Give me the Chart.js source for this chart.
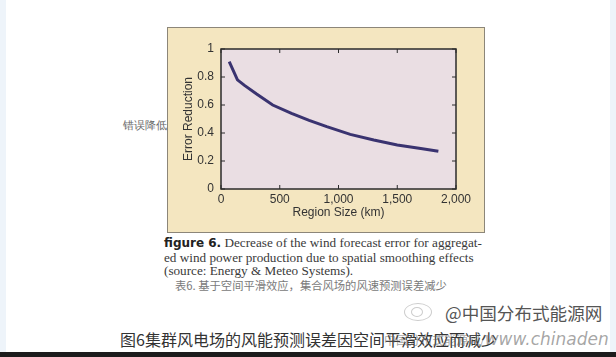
<!DOCTYPE html>
<html>
<head>
<meta charset="utf-8">
<script src="https://cdn.jsdelivr.net/npm/chart.js@4.4.0/dist/chart.umd.min.js"></script>
<style>
  body { margin: 0; width: 616px; height: 357px; background: #fff; position: relative; overflow: hidden; }
  .edge { position: absolute; top: 0; bottom: 0; width: 6px; background: #eef4fa; }
  .bar { position: absolute; left: 0; right: 0; top: 352px; height: 5px; background: #1c1c1c; }
  #box { position: absolute; left: 167px; top: 27px; width: 316px; height: 204px; border: 1px solid #8c8679; background: #f4e6c0; }
  #wrap { position: absolute; left: 0; top: 0; width: 316px; height: 204px; }
  .side { position: absolute; left: 123px; top: 118px; font: 11px "Liberation Serif", serif; color: #666; }
  .cap { position: absolute; left: 164px; top: 236px; width: 340px; font: 13.2px/13.5px "Liberation Serif", serif; color: #3a3a3a; }
  .cap b { font-family: "DejaVu Sans", sans-serif; font-size: 12px; color: #222; }
  .capzh { position: absolute; left: 175px; top: 277px; font: 11.3px "Noto Sans CJK SC", serif; color: #7a7a7a; }
  .logo { position: absolute; left: 404px; top: 303px; width: 26px; height: 16px; border: 1px solid #ccc; border-radius: 50%; }
  .logo2 { position: absolute; left: 411px; top: 307px; width: 10px; height: 8px; border: 1px solid #ccc; border-radius: 50%; }
  .weibo { position: absolute; left: 445px; top: 300px; font: 17.6px "Noto Sans CJK SC", sans-serif; color: #555; }
  .title { position: absolute; left: 120px; top: 327px; font: 16px "Noto Sans CJK SC", sans-serif; color: #333; }
  .mark { position: absolute; left: 384px; top: 329px; font: 12px "Noto Sans CJK SC", sans-serif; color: rgba(90,90,90,0.55); }
  .mark i { font: italic 17px "DejaVu Sans", sans-serif; }
</style>
</head>
<body>
<div class="edge" style="left:0"></div>
<div class="edge" style="right:0"></div>
<div id="box"><div id="wrap"><canvas id="chart" width="316" height="204"></canvas></div></div>
<div class="side">错误降低</div>
<div class="cap"><b>figure 6.</b> Decrease of the wind forecast error for aggregat-<br>ed wind power production due to spatial smoothing effects<br>(source: Energy &amp; Meteo Systems).</div>
<div class="capzh">表6. 基于空间平滑效应，集合风场的风速预测误差减少</div>
<div class="logo"></div><div class="logo2"></div>
<div class="weibo">@中国分布式能源网</div>
<div class="title">图6集群风电场的风能预测误差因空间平滑效应而减少</div>
<div class="mark">中国分布式能源网/<i>www.chinaden</i></div>
<div class="bar"></div>
<script>
// Curve
const regionSize = [70, 140, 200, 300, 440, 600, 750, 900, 1100, 1300, 1500, 1700, 1850];
const errorReduction = [0.91, 0.78, 0.74, 0.68, 0.60, 0.54, 0.49, 0.445, 0.39, 0.35, 0.315, 0.29, 0.27];
const xTicks = [0, 500, 1000, 1500, 2000];
const yTicks = [0, 0.2, 0.4, 0.6, 0.8, 1];

const points = regionSize.map((v, i) => ({ x: v, y: errorReduction[i] }));

// plot background, frame and inward tick marks
const frame = {
    id: 'frame',
    beforeDatasetsDraw(chart) {
        const { ctx, chartArea: a } = chart;
        ctx.save();
        ctx.fillStyle = '#eadee3';
        ctx.fillRect(a.left, a.top, a.right - a.left, a.bottom - a.top);
        ctx.restore();
    },
    afterDraw(chart) {
        const { ctx, chartArea: a, scales } = chart;
        ctx.save();
        ctx.strokeStyle = '#2b2b2b';
        ctx.lineWidth = 1.5;
        ctx.strokeRect(a.left, a.top, a.right - a.left, a.bottom - a.top);
        ctx.lineWidth = 1;
        ctx.beginPath();
        scales.x.ticks.forEach(t => {
            const px = scales.x.getPixelForValue(t.value);
            ctx.moveTo(px, a.bottom); ctx.lineTo(px, a.bottom - 4);
            ctx.moveTo(px, a.top); ctx.lineTo(px, a.top + 4);
        });
        scales.y.ticks.forEach(t => {
            const py = scales.y.getPixelForValue(t.value);
            ctx.moveTo(a.left, py); ctx.lineTo(a.left + 4, py);
            ctx.moveTo(a.right, py); ctx.lineTo(a.right - 4, py);
        });
        ctx.stroke();
        ctx.restore();
    }
};

const tickFont = { family: '"Liberation Sans", Arial, sans-serif', size: 12 };

new Chart(document.getElementById('chart'), {
    type: 'scatter',
    data: {
        datasets: [{
            data: points,
            showLine: true,
            borderColor: '#3a3370',
            borderWidth: 3,
            pointRadius: 0,
            tension: 0
        }]
    },
    options: {
        responsive: false,
        animation: false,
        layout: { padding: { top: 21, right: 28, left: 0, bottom: 0 } },
        plugins: { legend: { display: false }, tooltip: { enabled: false } },
        scales: {
            x: {
                type: 'linear',
                min: 0, max: 2000,
                afterBuildTicks: s => { s.ticks = xTicks.map(v => ({ value: v })); },
                afterFit: s => { s.height = 43; },
                grid: { display: false, drawTicks: false },
                border: { display: false },
                ticks: {
                    padding: 3,
                    color: '#333',
                    font: tickFont,
                    callback: v => v.toLocaleString('en-US')
                },
                title: {
                    display: true,
                    text: 'Region Size (km)',
                    color: '#333',
                    font: tickFont,
                    padding: { top: 0, bottom: 12 }
                }
            },
            y: {
                min: 0, max: 1,
                afterBuildTicks: s => { s.ticks = yTicks.map(v => ({ value: v })); },
                afterFit: s => { s.width = 53; },
                grid: { display: false, drawTicks: false },
                border: { display: false },
                ticks: {
                    padding: 7,
                    color: '#333',
                    font: tickFont,
                    callback: v => String(v)
                },
                title: {
                    display: true,
                    text: 'Error Reduction',
                    color: '#333',
                    font: tickFont,
                    padding: { top: 13, bottom: 0 }
                }
            }
        }
    },
    plugins: [frame]
});
</script>
</body>
</html>
